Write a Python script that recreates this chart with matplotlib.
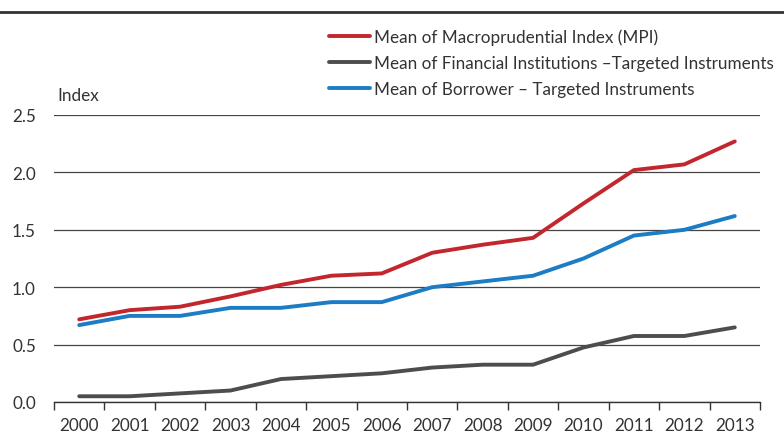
import matplotlib
matplotlib.use("Agg")
import matplotlib.pyplot as plt
from matplotlib.lines import Line2D
from matplotlib.ticker import FixedLocator

plt.rcParams['font.family'] = ['Lato', 'DejaVu Sans']

years = ["2000", "2001", "2002", "2003", "2004", "2005", "2006",
         "2007", "2008", "2009", "2010", "2011", "2012", "2013"]
mpi = [0.72, 0.80, 0.83, 0.92, 1.02, 1.10, 1.12, 1.30, 1.37, 1.43, 1.73, 2.02, 2.07, 2.27]
financial = [0.05, 0.05, 0.075, 0.10, 0.20, 0.225, 0.25, 0.30, 0.325, 0.325, 0.475, 0.575, 0.575, 0.65]
borrower = [0.67, 0.75, 0.75, 0.82, 0.82, 0.87, 0.87, 1.00, 1.05, 1.10, 1.25, 1.45, 1.50, 1.62]

labels = ["Mean of Macroprudential Index (MPI)",
          "Mean of Financial Institutions \u2013Targeted Instruments",
          "Mean of Borrower \u2013 Targeted Instruments"]
colors = ["#C1272D", "#4D4D4F", "#1C7CC4"]
text_color = "#333333"
fs = 12.3

fig = plt.figure(figsize=(7.84, 4.35), dpi=100)
ax = fig.add_axes([54/784, 1-403/435, (760-54)/784, (403-116)/435])

x = list(range(len(years)))
for series, c, lab in zip([mpi, financial, borrower], colors, labels):
    ax.plot(x, series, color=c, lw=2.8, solid_capstyle='round', label=lab, zorder=3)

ax.set_xlim(-0.5, len(years) - 0.5)
ax.set_ylim(0, 2.5)
ax.set_yticks([0.0, 0.5, 1.0, 1.5, 2.0, 2.5])
ax.set_yticklabels([f"{v:.1f}" for v in [0.0, 0.5, 1.0, 1.5, 2.0, 2.5]])
ax.yaxis.grid(True, color="#444444", lw=0.9)
ax.set_axisbelow(True)
for s in ["left", "right", "top"]:
    ax.spines[s].set_visible(False)
ax.spines["bottom"].set_color("#333333")
ax.spines["bottom"].set_linewidth(1.0)
ax.tick_params(axis='y', length=0, pad=13, labelsize=fs, labelcolor=text_color)

ax.set_xticks(x)
ax.set_xticklabels(years)
ax.xaxis.set_minor_locator(FixedLocator([i - 0.5 for i in range(len(years) + 1)]))
ax.tick_params(axis='x', which='major', length=0, pad=11, labelsize=fs, labelcolor=text_color)
ax.tick_params(axis='x', which='minor', length=6, width=1.0, color="#333333", direction='out')

fig.text(57/784, 1-96/435, "Index", fontsize=fs, color=text_color, va='center', ha='left')

# top rule
fig.add_artist(Line2D([0, 1], [1-13/435, 1-13/435], color="#333333", lw=2.0, transform=fig.transFigure))

leg = fig.legend(loc='upper left', bbox_to_anchor=(329/784, 1-29/435), frameon=False,
                 fontsize=fs, handlelength=2.4, handletextpad=0.25, labelspacing=0.6,
                 borderaxespad=0, borderpad=0)
for t in leg.get_texts():
    t.set_color(text_color)

fig.savefig("out.png", dpi=100)
